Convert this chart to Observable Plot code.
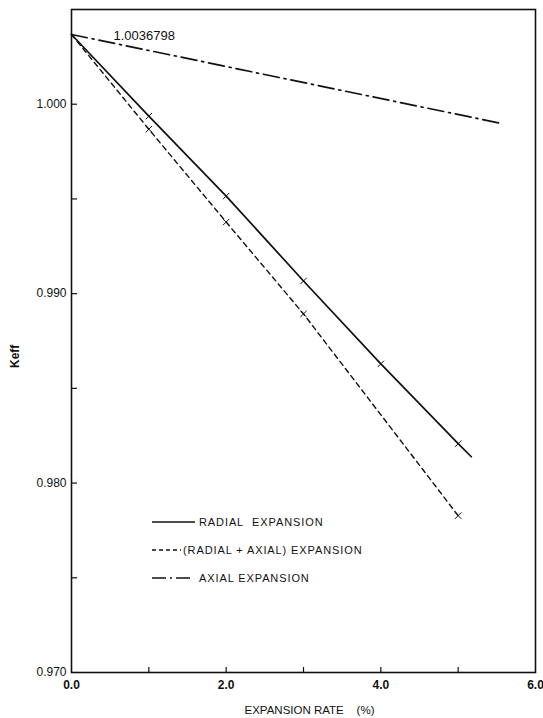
<!DOCTYPE html>
<html>
<head>
<meta charset="utf-8">
<script src="https://cdn.jsdelivr.net/npm/d3@7"></script>
<script src="https://cdn.jsdelivr.net/npm/@observablehq/plot@0.6"></script>
<style>
  html, body { margin: 0; padding: 0; background: #fff; }
  #chart { width: 543px; height: 718px; }
  svg { display: block; }
</style>
</head>
<body>
<div id="chart"></div>
<script>
// ---- data ----
const radialRate = [0, 1, 2, 3, 4, 5, 5.17];
const radialKeff = [1.0036798, 0.99937, 0.99515, 0.99067, 0.98629, 0.98208, 0.98139];
const radialMarked = [false, true, true, true, true, true, false];

const combinedRate = [0, 1, 2, 3, 5];
const combinedKeff = [1.0036798, 0.99868, 0.99378, 0.98893, 0.97828];
const combinedMarked = [false, true, true, true, true];

const axialRate = [0, 5.54];
const axialKeff = [1.0036798, 0.9990];

const xTickLabels = [0, 2, 4, 6];
const xTickMarks = [1, 2, 3, 4, 5];
const yTickLabels = [0.970, 0.980, 0.990, 1.000];
const yTickMarks = [0.975, 0.980, 0.985, 0.990, 0.995, 1.000];

const annotationText = ["1.0036798"];
const annotationValue = [1.0036798];

const xTitle = "EXPANSION RATE\u00a0\u00a0\u00a0\u00a0(%)";
const yTitle = "Keff";

const legendLabels = ["RADIAL\u00a0 EXPANSION", "(RADIAL + AXIAL) EXPANSION", "AXIAL EXPANSION"];

// ---- build tables ----
const radial = radialRate.map((x, i) => ({x, y: radialKeff[i], m: radialMarked[i]}));
const combined = combinedRate.map((x, i) => ({x, y: combinedKeff[i], m: combinedMarked[i]}));
const axial = axialRate.map((x, i) => ({x, y: axialKeff[i]}));
const annotation = annotationText.map((t, i) => ({x: 0, y: annotationValue[i], t}));

const W = 543, H = 718, mL = 71, mR = 8, mT = 9, mB = 46;
const plotW = W - mL - mR, plotH = H - mT - mB;
const ink = "#111";

const chart = Plot.plot({
  width: W, height: H,
  marginLeft: mL, marginRight: mR, marginTop: mT, marginBottom: mB,
  x: {domain: [0, 6]},
  y: {domain: [0.970, 1.005]},
  style: {fontFamily: "'Liberation Sans', Arial, sans-serif", fontSize: "12px", color: ink, background: "#fff"},
  marks: [
    Plot.frame({stroke: ink, strokeWidth: 1.6}),
    // inward ticks
    Plot.tickX(xTickMarks, {x: d => d, insetTop: plotH - 5, stroke: ink, strokeWidth: 1.2}),
    Plot.tickY(yTickMarks, {y: d => d, insetRight: plotW - 6, stroke: ink, strokeWidth: 1.2}),
    // tick labels
    Plot.axisX(xTickLabels, {tickSize: 0, tickPadding: 8, tickFormat: d => d.toFixed(1), label: null, fontWeight: "bold", fontSize: 12}),
    Plot.axisY(yTickLabels, {tickSize: 0, tickPadding: 5, tickFormat: d3.format(".3f"), label: null, fontSize: 12}),
    // axis titles
    Plot.text([xTitle], {frameAnchor: "bottom", dy: 41, dx: 6, fontSize: 11.5, fill: ink, text: d => d, style: {letterSpacing: "0.9px"}}),
    Plot.text([yTitle], {frameAnchor: "left", dx: -56, dy: 27, rotate: -90, fontSize: 12, fontWeight: "bold", fill: ink, text: d => d}),
    // lines
    Plot.line(axial, {x: "x", y: "y", stroke: ink, strokeWidth: 1.7, strokeDasharray: "16,5,2,5"}),
    Plot.line(combined, {x: "x", y: "y", stroke: ink, strokeWidth: 1.4, strokeDasharray: "5,4"}),
    Plot.line(radial, {x: "x", y: "y", stroke: ink, strokeWidth: 1.7}),
    Plot.dot(radial.filter(d => d.m), {x: "x", y: "y", symbol: "times", r: 3, stroke: ink, strokeWidth: 1}),
    Plot.dot(combined.filter(d => d.m), {x: "x", y: "y", symbol: "times", r: 3, stroke: ink, strokeWidth: 1}),
    // annotation of the starting value
    Plot.text(annotation, {x: "x", y: "y", text: "t", dx: 42, dy: 1, textAnchor: "start", fontSize: 13, fill: ink})
  ]
});

document.getElementById("chart").appendChild(chart);

// ---- legend (drawn inside the plot area, as in the reference) ----
const svg = d3.select(chart);
const legendStyles = [
  {dash: null, x2: 195, tx: 199},
  {dash: "4,3", x2: 181, tx: 183},
  {dash: "14,4,2,4", x2: 194, tx: 199}
];
const lg = svg.append("g")
  .attr("font-family", "'Liberation Sans', Arial, sans-serif")
  .attr("font-size", 11)
  .attr("text-anchor", "start");
legendLabels.forEach((label, i) => {
  const y = 522 + i * 28;
  const s = legendStyles[i];
  lg.append("line")
    .attr("x1", 152).attr("x2", s.x2).attr("y1", y).attr("y2", y)
    .attr("stroke", ink).attr("stroke-width", 1.5)
    .attr("stroke-dasharray", s.dash);
  lg.append("text")
    .attr("x", s.tx).attr("y", y).attr("dy", "0.35em")
    .attr("text-anchor", "start")
    .attr("fill", ink).attr("letter-spacing", "0.9px")
    .text(label);
});
</script>
</body>
</html>
